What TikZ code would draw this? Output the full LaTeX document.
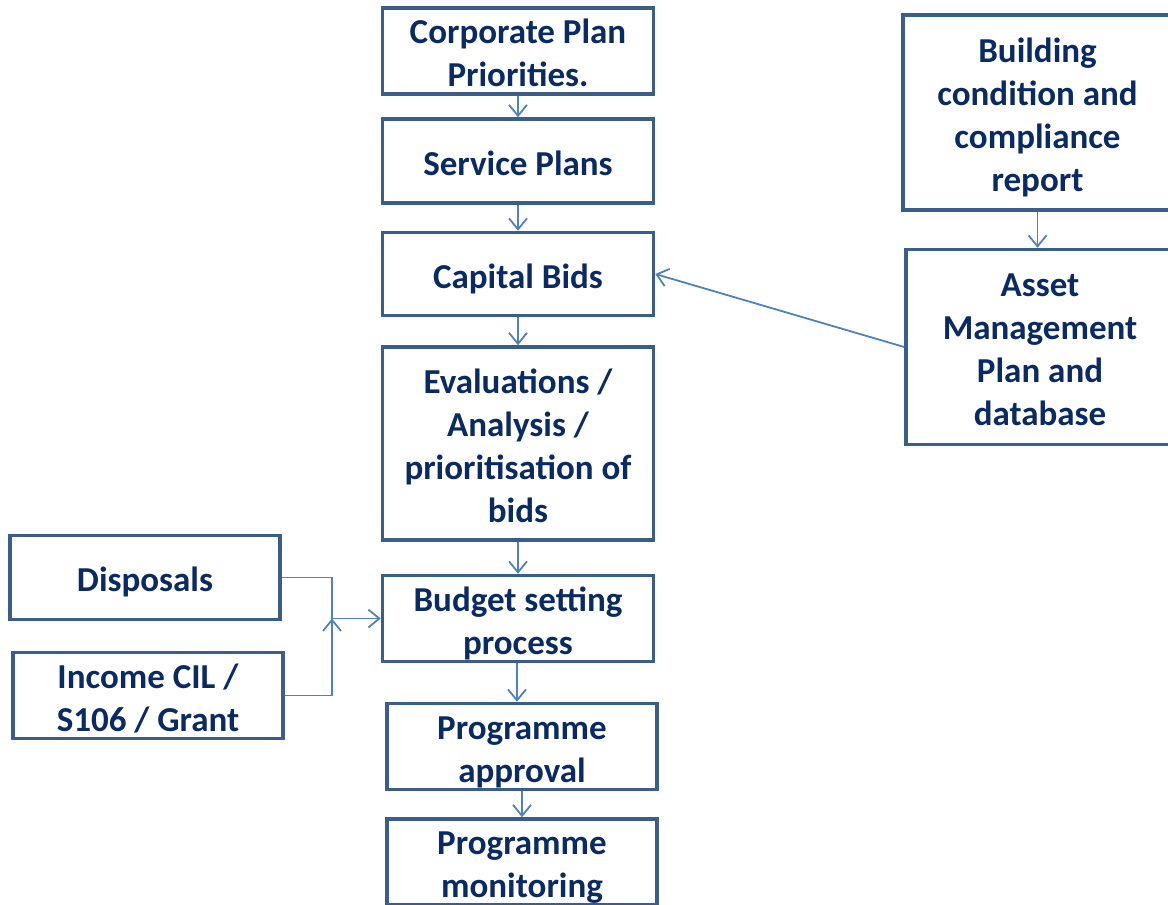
\documentclass[tikz,border=0pt]{standalone}
\usepackage{fontspec}
\setmainfont{Carlito}
\usetikzlibrary{arrows.meta}
\definecolor{txtc}{RGB}{10,42,100}
\definecolor{boxc}{RGB}{58,94,140}
\definecolor{arrc}{RGB}{79,129,189}
\newcommand\tx[1]{\raisebox{-5.4pt}[\height][\depth]{\begin{tabular}{@{}c@{}}#1\end{tabular}}}
\tikzset{
  box/.style={draw=boxc, line width=3.5pt, fill=white, text=txtc,
    font=\fontsize{35}{43}\selectfont\bfseries, inner sep=0pt},
  conn/.style={draw=arrc, line width=1.8pt},
  arr/.style={conn, -{Straight Barb[length=11pt,width=18pt,line width=1.8pt]}}
}
\begin{document}
\begin{tikzpicture}[x=1pt,y=-1pt]
\useasboundingbox (0,0) rectangle (1168,905);
\node[box, minimum width=271pt, minimum height=84pt] (corp) at (518,51) {\tx{Corporate Plan\\Priorities.}};
\node[box, minimum width=271pt, minimum height=84pt] (serv) at (518,161) {\tx{Service Plans}};
\node[box, minimum width=271pt, minimum height=83pt] (cap) at (518,274) {\tx{Capital Bids}};
\node[box, minimum width=271pt, minimum height=193pt] (eval) at (518,443.5) {\tx{Evaluations /\\Analysis /\\prioritisation of\\bids}};
\node[box, minimum width=271pt, minimum height=83pt] (budget) at (518,618.5) {\tx{Budget setting\\process}};
\node[box, minimum width=270pt, minimum height=83pt] (appr) at (522,746.5) {\tx{Programme\\approval}};
\node[box, minimum width=270pt, minimum height=84pt] (mon) at (522,862) {\tx{Programme\\monitoring}};
\node[box, minimum width=269pt, minimum height=195pt] (build) at (1037.5,112.5) {\tx{Building\\condition and\\compliance\\report}};
\node[box, minimum width=268pt, minimum height=195pt] (asset) at (1040,347) {\tx{Asset\\Management\\Plan and\\database}};
\node[box, minimum width=270pt, minimum height=84pt] (disp) at (145,577.5) {\tx{Disposals}};
\node[box, minimum width=270pt, minimum height=85pt] (inc) at (148,695.5) {\tx{Income CIL /\\S106 / Grant}};
\coordinate (j) at (332,618.5);
\draw[arr] (corp.south) -- (serv.north);
\draw[arr] (serv.south) -- (cap.north);
\draw[arr] (cap.south) -- (eval.north);
\draw[arr] (eval.south) -- (budget.north);
\draw[arr] ([xshift=-1pt]budget.south) -- ([xshift=-1pt]budget.south |- appr.north);
\draw[arr] (appr.south) -- (mon.north);
\draw[arr] (build.south) -- (build.south |- asset.north);
\draw[arr] (asset.west) -- (cap.east);
\draw[conn] (disp.east) -| (j);
\draw[arr] (inc.east) -| (j);
\draw[arr] (j) -- (budget.west);
\end{tikzpicture}
\end{document}
